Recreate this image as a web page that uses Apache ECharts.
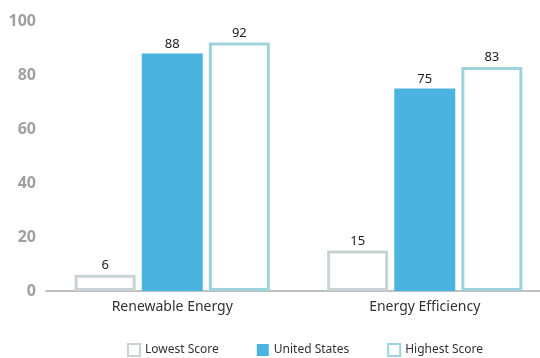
<!DOCTYPE html>
<html>
<head>
<meta charset="utf-8">
<script src="https://cdn.jsdelivr.net/npm/echarts@6/dist/echarts.min.js"></script>
<style>
  html, body { margin: 0; padding: 0; background: #fff; }
  #main { width: 540px; height: 358px; }
</style>
</head>
<body>
<div id="main"></div>
<script>
// data
var categories = ['Renewable Energy', 'Energy Efficiency'];
var seriesNames = ['Lowest Score', 'United States', 'Highest Score'];
var lowestScore = [6, 15];
var unitedStates = [88, 75];
var highestScore = [92, 83];
var yTicks = [0, 20, 40, 60, 80, 100];

var FONT = '"Noto Sans", sans-serif';

function hollow(name, values, border) {
    return {
        name: name,
        type: 'bar',
        data: values,
        barWidth: 61,
        barGap: '10%',
        itemStyle: { color: '#fff', borderColor: border, borderWidth: 3 },
        label: { show: true, position: 'top', distance: 3, color: '#222', fontSize: 13, fontFamily: FONT }
    };
}

var chart = echarts.init(document.getElementById('main'));
chart.setOption({
    animation: false,
    grid: { left: 46, right: -11, top: 21, bottom: 67, outerBoundsMode: 'none', containLabel: false },
    legend: {
        top: 338,
        left: 122,
        itemWidth: 12,
        itemHeight: 12,
        itemGap: 38,
        textStyle: { color: '#333', fontSize: 12, fontFamily: FONT, width: 70, overflow: 'none' },
        data: [
            { name: seriesNames[0], icon: 'rect', itemStyle: { color: '#fff', borderColor: '#c9d3d6', borderWidth: 2 } },
            { name: seriesNames[1], icon: 'rect', itemStyle: { color: '#4ab3e0' } },
            { name: seriesNames[2], icon: 'rect', itemStyle: { color: '#fff', borderColor: '#9fd3dc', borderWidth: 2 } }
        ]
    },
    xAxis: {
        type: 'category',
        data: categories,
        axisLine: { lineStyle: { color: '#aaaaaa', width: 1.5 } },
        axisTick: { show: false },
        axisLabel: { color: '#333', fontSize: 14, fontFamily: FONT, margin: 9 }
    },
    yAxis: {
        type: 'value',
        min: yTicks[0],
        max: yTicks[yTicks.length - 1],
        interval: 20,
        axisLine: { show: false },
        axisTick: { show: false },
        splitLine: { show: false },
        axisLabel: { color: '#a0a0a0', fontSize: 16, fontWeight: 'bold', fontFamily: FONT, margin: 10 }
    },
    series: [
        hollow(seriesNames[0], lowestScore, '#c9d3d6'),
        {
            name: seriesNames[1],
            type: 'bar',
            data: unitedStates,
            barWidth: 61,
            itemStyle: { color: '#4ab3e0' },
            label: { show: true, position: 'top', distance: 3, color: '#222', fontSize: 13, fontFamily: FONT }
        },
        hollow(seriesNames[2], highestScore, '#9fd3dc')
    ]
});
</script>
</body>
</html>
